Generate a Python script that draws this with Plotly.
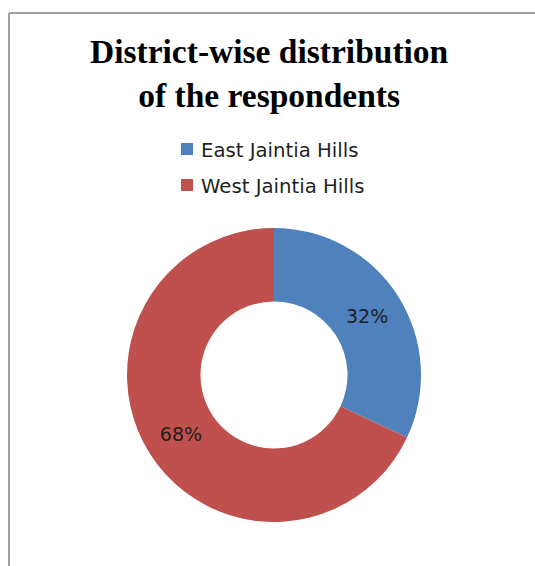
import plotly.graph_objects as go

# District shares of respondents
districts = ["East Jaintia Hills", "West Jaintia Hills"]
shares = [32, 68]
colors = ["#4F81BD", "#C0504D"]
title_lines = ["District-wise distribution", "of the respondents"]

W, H = 535, 566
cx, cy, r = 274, 375, 147  # donut centre and outer radius in px


def px_x(x):
    return x / W


def px_y(y):
    return 1 - y / H


fig = go.Figure(
    go.Pie(
        labels=districts,
        values=shares,
        marker=dict(colors=colors, line=dict(width=0)),
        hole=0.5,
        sort=False,
        direction="clockwise",
        rotation=0,
        textinfo="percent",
        textposition="inside",
        insidetextorientation="horizontal",
        textfont=dict(family="DejaVu Sans", size=19, color="#1f1f1f"),
        domain=dict(x=[px_x(cx - r), px_x(cx + r)], y=[px_y(cy + r), px_y(cy - r)]),
        showlegend=False,
        hoverinfo="label+percent",
    )
)

shapes = [
    # chart frame (top and left edges visible)
    dict(type="line", xref="paper", yref="paper", x0=px_x(9), x1=1.02, y0=px_y(13), y1=px_y(13),
         line=dict(color="#a0a0a0", width=2)),
    dict(type="line", xref="paper", yref="paper", x0=px_x(9), x1=px_x(9), y0=px_y(13), y1=-0.02,
         line=dict(color="#a0a0a0", width=2)),
]
annotations = [
    dict(text="<b>" + "<br>".join(title_lines) + "</b>", xref="paper", yref="paper",
         x=px_x(269), y=px_y(73), xanchor="center", yanchor="middle", showarrow=False,
         font=dict(family="Liberation Serif", size=33.5, color="#000000")),
]

# legend rows
for i, (name, col) in enumerate(zip(districts, colors)):
    yc = 149 + i * 36
    shapes.append(dict(type="rect", xref="paper", yref="paper",
                       x0=px_x(181), x1=px_x(193), y0=px_y(yc + 6), y1=px_y(yc - 6),
                       fillcolor=col, line=dict(width=0)))
    annotations.append(dict(text=name, xref="paper", yref="paper", x=px_x(199), y=px_y(yc + 1),
                            xanchor="left", yanchor="middle", showarrow=False,
                            font=dict(family="DejaVu Sans", size=19.7, color="#1f1f1f")))

fig.update_layout(
    width=W,
    height=H,
    margin=dict(l=0, r=0, t=0, b=0),
    paper_bgcolor="white",
    plot_bgcolor="white",
    shapes=shapes,
    annotations=annotations,
)

fig.write_html("out.html")
